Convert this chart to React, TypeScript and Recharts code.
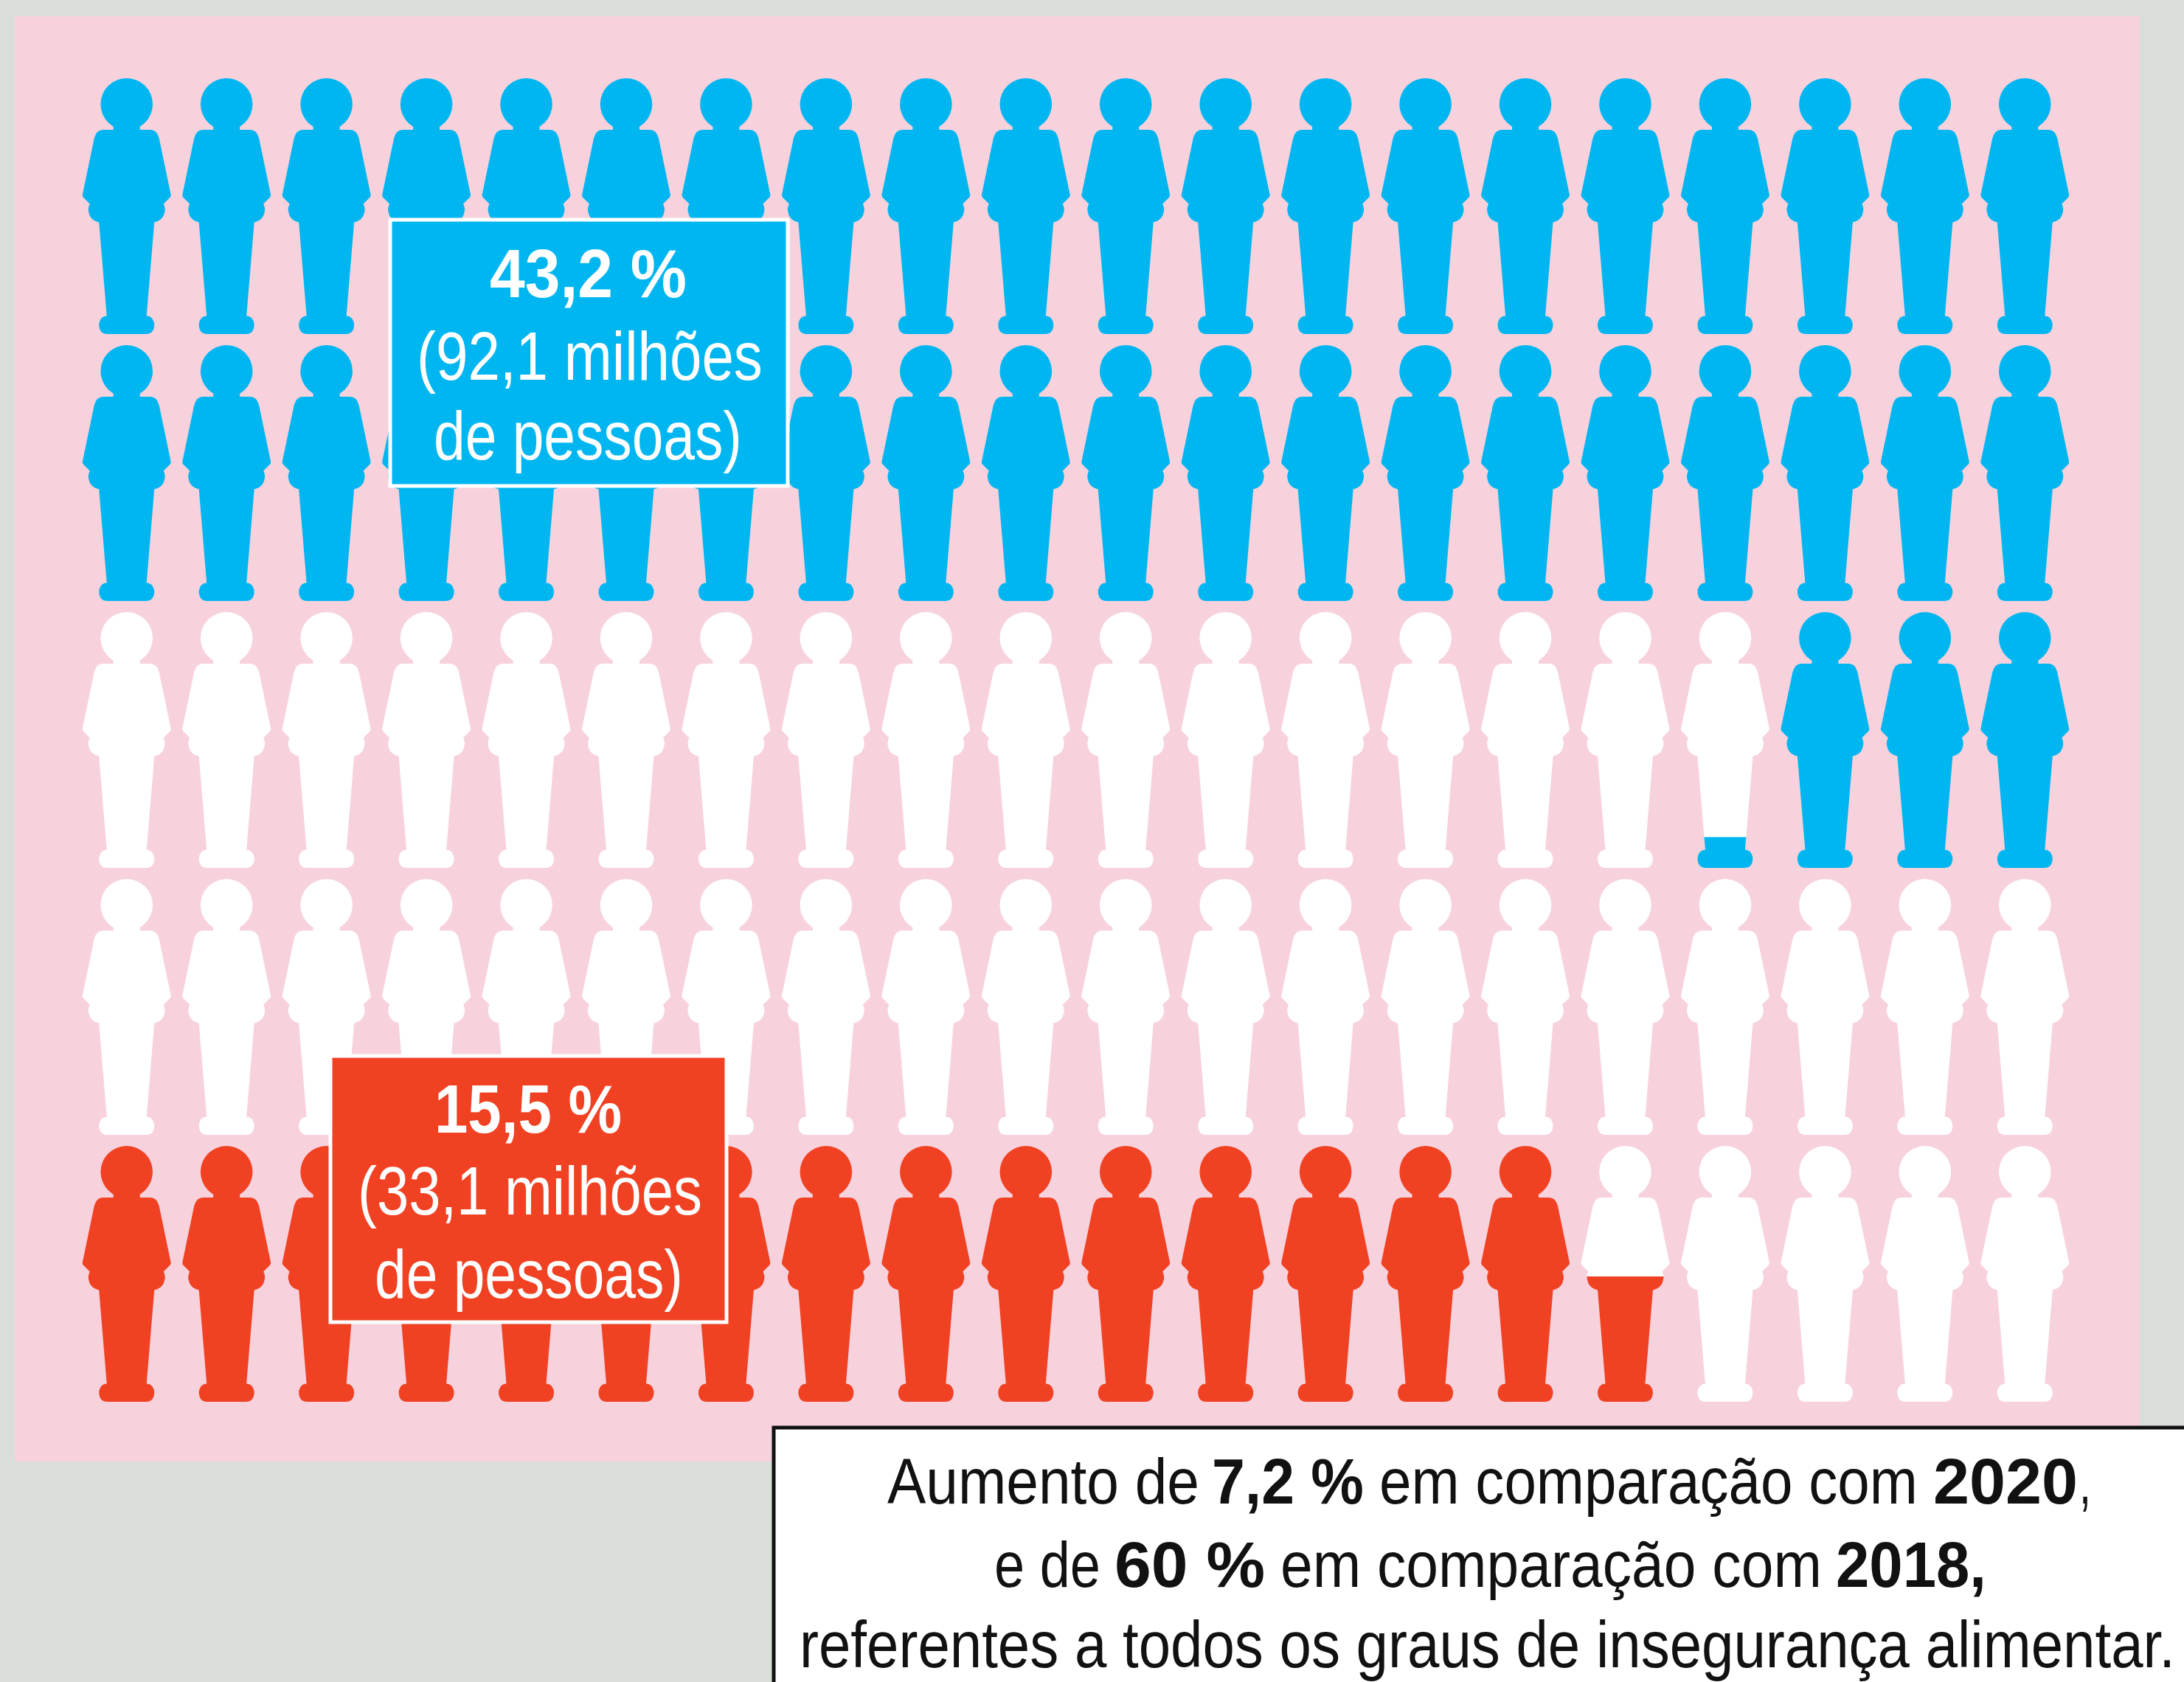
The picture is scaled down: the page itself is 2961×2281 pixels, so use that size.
import { ScatterChart, Scatter, XAxis, YAxis } from 'recharts';

const W = 2961;
const H = 2281;
const BLUE = '#00b6f1';
const RED = '#f04123';
const PERSON_H = 347;

const columns = [1, 2, 3, 4, 5, 6, 7, 8, 9, 10, 11, 12, 13, 14, 15, 16, 17, 18, 19, 20];

// how much of each figure is coloured, from the feet up
const row1 = [1, 1, 1, 1, 1, 1, 1, 1, 1, 1, 1, 1, 1, 1, 1, 1, 1, 1, 1, 1];
const row2 = [1, 1, 1, 1, 1, 1, 1, 1, 1, 1, 1, 1, 1, 1, 1, 1, 1, 1, 1, 1];
const row3 = [0, 0, 0, 0, 0, 0, 0, 0, 0, 0, 0, 0, 0, 0, 0, 0, 0.12, 1, 1, 1];
const row4 = [0, 0, 0, 0, 0, 0, 0, 0, 0, 0, 0, 0, 0, 0, 0, 0, 0, 0, 0, 0];
const row5 = [1, 1, 1, 1, 1, 1, 1, 1, 1, 1, 1, 1, 1, 1, 1, 0.49, 0, 0, 0, 0];

const toPoints = (row: number, values: number[]) =>
  values.map((level, i) => ({ col: columns[i], row, level }));

const PERSON_PATH =
  'M-18,-108 L-18,-103.5 L-32,-103.5 Q-41,-103.5 -44,-92 L-60,-15 Q-60,-13 -58,-11 L-50,-3 ' +
  'Q-53,3 -51.5,8 Q-50,17 -42,20.5 L-37.5,22 L-27,149 Q-32,149 -35,153 Q-37.5,157 -37.5,161 ' +
  'Q-37,173.5 -26,173.5 L26,173.5 Q37,173.5 37.5,161 Q37.5,157 35,153 Q32,149 27,149 ' +
  'L37.5,22 L42,20.5 Q50,17 51.5,8 Q53,3 50,-3 ' +
  'L58,-11 Q60,-13 60,-15 L44,-92 Q41,-103.5 32,-103.5 L18,-103.5 L18,-108 Z';

function Person(props: any) {
  const { cx, cy, payload, color } = props;
  const { level, row, col } = payload;
  const clipId = `fill-${row}-${col}`;
  const shape = (fill: string, clip?: string) => (
    <g transform={`translate(${cx},${cy})`} fill={fill} clipPath={clip}>
      <circle cx={0} cy={-138.2} r={35.3} />
      <path d={PERSON_PATH} />
    </g>
  );
  if (level >= 1) return shape(color);
  if (level <= 0) return shape('#ffffff');
  const fillH = PERSON_H * level;
  return (
    <g>
      <defs>
        <clipPath id={clipId} clipPathUnits="userSpaceOnUse">
          <rect x={-70} y={173.5 - fillH} width={140} height={fillH + 1} />
        </clipPath>
      </defs>
      {shape('#ffffff')}
      {shape(color, `url(#${clipId})`)}
    </g>
  );
}

const NARROW = '"Liberation Sans Narrow", "Liberation Sans", sans-serif';
const measureCtx = document.createElement('canvas').getContext('2d')!;

// squeeze a run of text horizontally so it spans x0..x1, like the condensed original face
function Seg({ x0, x1, y, bold, size = 88, color = '#111', children }: any) {
  const weight = bold ? 700 : 400;
  measureCtx.font = `${weight} ${size}px ${NARROW}`;
  const natural = measureCtx.measureText(children).width;
  const sx = (x1 - x0) / natural;
  return (
    <text
      transform={`translate(${x0},${y}) scale(${sx},1)`}
      fontFamily={NARROW}
      fontSize={size}
      fontWeight={weight}
      fill={color}
    >
      {children}
    </text>
  );
}

export default function App() {
  return (
    <div style={{ position: 'absolute', left: 0, top: 0, width: W, height: H, background: '#d9ded8', overflow: 'hidden' }}>
      <div style={{ position: 'absolute', left: 20, top: 22, width: 2881, height: 1960, background: '#f7d2dc' }} />
      <div style={{ position: 'absolute', left: 0, top: 0 }}>
        <ScatterChart width={W} height={H} margin={{ top: 98.5, right: 148, bottom: 372.5, left: 104 }}>
          <XAxis type="number" dataKey="col" domain={[0.5, 20.5]} hide />
          <YAxis type="number" dataKey="row" domain={[0.5, 5.5]} reversed hide />
          <Scatter data={toPoints(1, row1)} isAnimationActive={false} shape={(p: any) => <Person {...p} color={BLUE} />} />
          <Scatter data={toPoints(2, row2)} isAnimationActive={false} shape={(p: any) => <Person {...p} color={BLUE} />} />
          <Scatter data={toPoints(3, row3)} isAnimationActive={false} shape={(p: any) => <Person {...p} color={BLUE} />} />
          <Scatter data={toPoints(4, row4)} isAnimationActive={false} shape={(p: any) => <Person {...p} color={RED} />} />
          <Scatter data={toPoints(5, row5)} isAnimationActive={false} shape={(p: any) => <Person {...p} color={RED} />} />
        </ScatterChart>
      </div>
      <svg width={W} height={H} style={{ position: 'absolute', left: 0, top: 0 }}>
        <rect x={529} y={298} width={539} height={361} fill={BLUE} stroke="#fff" strokeWidth={5} />
        <Seg x0={664} x1={931} y={403} bold size={92} color="#fff">43,2 %</Seg>
        <Seg x0={565} x1={1034} y={515} size={92} color="#fff">(92,1 milhões</Seg>
        <Seg x0={588} x1={1006} y={623} size={92} color="#fff">de pessoas)</Seg>

        <rect x={448} y={1432} width={537} height={361} fill={RED} stroke="#fff" strokeWidth={5} />
        <Seg x0={589} x1={843} y={1536} bold size={92} color="#fff">15,5 %</Seg>
        <Seg x0={485} x1={952} y={1647} size={92} color="#fff">(33,1 milhões</Seg>
        <Seg x0={508} x1={926} y={1760} size={92} color="#fff">de pessoas)</Seg>

        <rect x={1049} y={1936} width={W} height={H} fill="#fff" stroke="#111" strokeWidth={5} />
        <Seg x0={1203} x1={1626} y={2039}>Aumento de</Seg>
        <Seg x0={1643} x1={1849} y={2039} bold>7,2 %</Seg>
        <Seg x0={1870} x1={2600} y={2039}>em comparação com</Seg>
        <Seg x0={2621} x1={2817} y={2039} bold>2020</Seg>
        <Seg x0={2819} x1={2835} y={2039}>,</Seg>
        <Seg x0={1348} x1={1492} y={2152}>e de</Seg>
        <Seg x0={1511} x1={1715} y={2152} bold>60 %</Seg>
        <Seg x0={1736} x1={2470} y={2152}>em comparação com</Seg>
        <Seg x0={2489} x1={2693} y={2152} bold>2018,</Seg>
        <Seg x0={1084} x1={2949} y={2261}>referentes a todos os graus de insegurança alimentar.</Seg>
      </svg>
    </div>
  );
}
